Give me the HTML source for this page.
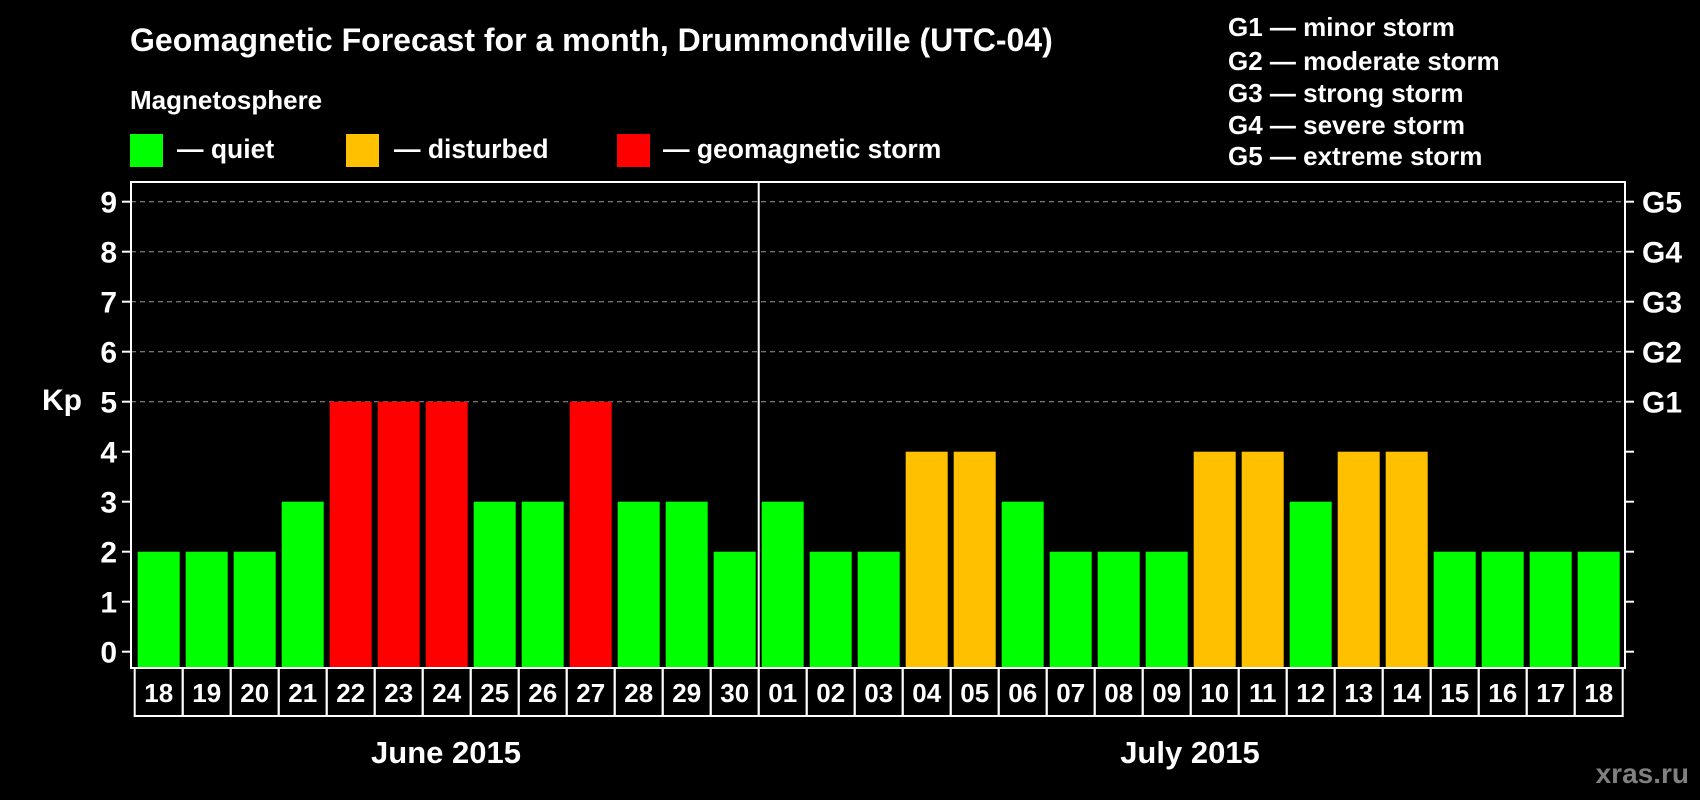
<!DOCTYPE html>
<html><head><meta charset="utf-8"><style>
html,body{margin:0;padding:0;background:#000;}
svg{display:block;font-family:"Liberation Sans",Arial,sans-serif;font-weight:bold;}
</style></head><body>
<svg id="c" width="1700" height="800" viewBox="0 0 1700 800" xmlns="http://www.w3.org/2000/svg">
<text x="130" y="51" fill="#fff" font-size="32">Geomagnetic Forecast for a month, Drummondville (UTC-04)</text>
<text x="130" y="109" fill="#fff" font-size="26">Magnetosphere</text>
<rect x="130" y="134" width="33" height="33" fill="#00ff00"/>
<text x="177" y="158" fill="#fff" font-size="26.5">— quiet</text>
<rect x="346" y="134" width="33" height="33" fill="#ffc000"/>
<text x="394" y="158" fill="#fff" font-size="26.5">— disturbed</text>
<rect x="617" y="134" width="33" height="33" fill="#ff0000"/>
<text x="663" y="158" fill="#fff" font-size="26.5">— geomagnetic storm</text>
<g fill="#fff" font-size="26">
<text x="1228" y="36">G1 — minor storm</text>
<text x="1228" y="70">G2 — moderate storm</text>
<text x="1228" y="102">G3 — strong storm</text>
<text x="1228" y="134">G4 — severe storm</text>
<text x="1228" y="165">G5 — extreme storm</text>
</g>
<g id="grid"></g><g id="bars"></g><g id="axes"></g>
<text x="42" y="410" fill="#fff" font-size="30">Kp</text>
<text x="446" y="763" fill="#fff" font-size="31" text-anchor="middle">June 2015</text>
<text x="1190" y="763" fill="#fff" font-size="31" text-anchor="middle">July 2015</text>
<text x="1689" y="783" fill="#808080" font-size="28" text-anchor="end">xras.ru</text>
</svg>
<script>
const days=["18","19","20","21","22","23","24","25","26","27","28","29","30","01","02","03","04","05","06","07","08","09","10","11","12","13","14","15","16","17","18"];
const kp=[2,2,2,3,5,5,5,3,3,5,3,3,2,3,2,2,4,4,3,2,2,2,4,4,3,4,4,2,2,2,2];
const yTicks=[0,1,2,3,4,5,6,7,8,9];
const gLabels=["G1","G2","G3","G4","G5"];
const gLevels=[5,6,7,8,9];
const NS="http://www.w3.org/2000/svg";
const L=131,R=1625,T=182,B=668,X0=134.7,P=48;
function y(v){return 651.7-50*v;}
function x(i){return X0+P*i;}
function mk(t,a,p){const e=document.createElementNS(NS,t);for(const k in a)e.setAttribute(k,a[k]);p.appendChild(e);return e;}
const grid=document.getElementById('grid'),bars=document.getElementById('bars'),axes=document.getElementById('axes');
gLevels.forEach(v=>{const l=mk('line',{x1:L,x2:R,y1:y(v),y2:y(v),stroke:'#999','stroke-dasharray':'5,4','stroke-width':1},grid);

});
kp.forEach((v,i)=>{const c=v>=5?'#ff0000':(v>=4?'#ffc000':'#00ff00');
const r=mk('rect',{x:x(i)+3,y:y(v),width:42,height:y(0)-y(v)+16,fill:c},bars);


const cell=mk('rect',{x:x(i),y:B,width:P,height:48,fill:'none',stroke:'#fff','stroke-width':2},axes);


const t=mk('text',{x:x(i)+P/2,y:B+34,fill:'#fff','font-size':26,'text-anchor':'middle'},axes);t.textContent=days[i];

});
const fr=mk('rect',{x:L,y:T,width:R-L,height:B-T,fill:'none',stroke:'#fff','stroke-width':2},axes);


const dv=mk('line',{x1:x(13),x2:x(13),y1:T,y2:B,stroke:'#fff','stroke-width':2},axes);


yTicks.forEach(v=>{mk('line',{x1:L-9,x2:L,y1:y(v),y2:y(v),stroke:'#fff','stroke-width':2},axes);
mk('line',{x1:R,x2:R+9,y1:y(v),y2:y(v),stroke:'#fff','stroke-width':2},axes);
const t=mk('text',{x:117,y:y(v)+11,fill:'#fff','font-size':30,'text-anchor':'end'},axes);t.textContent=v;

});
gLevels.forEach((v,i)=>{const t=mk('text',{x:1642,y:y(v)+11,fill:'#fff','font-size':30},axes);t.textContent=gLabels[i];

});
</script>
</body></html>
